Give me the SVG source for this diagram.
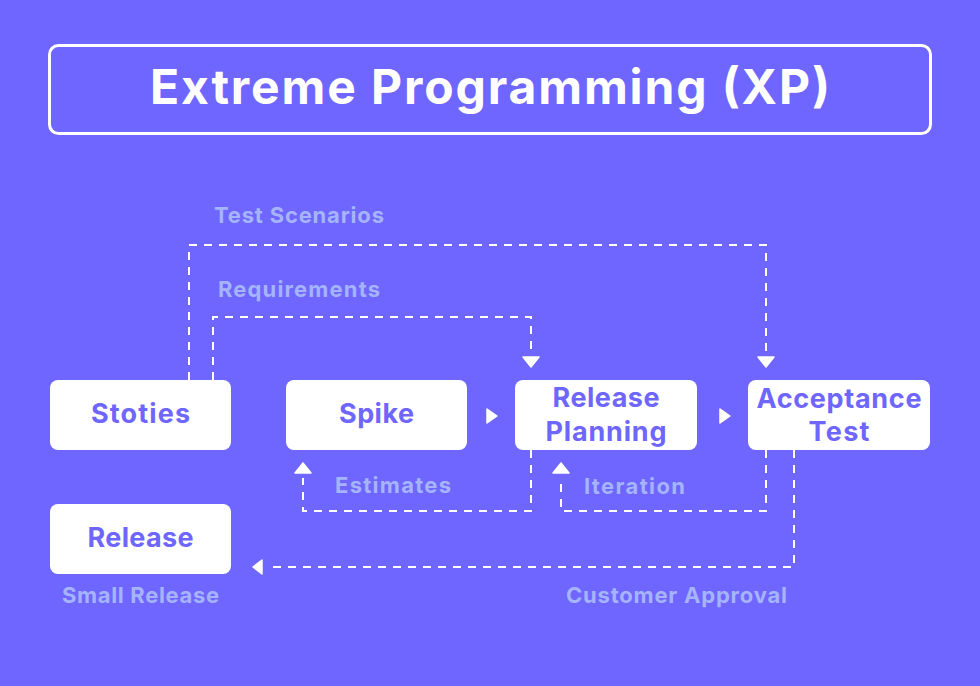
<svg xmlns="http://www.w3.org/2000/svg" width="980" height="686" viewBox="0 0 980 686">
<style>
.node rect{fill:#ffffff;}
.node text{fill:#6f66ff;font-family:Inter,"Noto Sans",sans-serif;font-weight:700;font-size:27px;text-anchor:middle;}
.lbl{fill:#a5b4fc;font-family:Inter,"Noto Sans",sans-serif;font-weight:700;font-size:22px;}
.dash{fill:none;stroke:#ffffff;stroke-width:2;stroke-dasharray:8 7;}
.ah{fill:#ffffff;stroke:#ffffff;stroke-width:1.5;stroke-linejoin:round;}
</style>
<rect width="980" height="686" fill="#6f66ff"/>
<g id="title">
<rect x="49.5" y="45.5" width="881" height="88" rx="9" fill="none" stroke="#ffffff" stroke-width="3"/>
<text x="490" y="104" fill="#ffffff" font-family="Inter,'Noto Sans',sans-serif" font-weight="700" font-size="48" text-anchor="middle" textLength="680" lengthAdjust="spacing">Extreme Programming (XP)</text>
</g>
<g id="connectors">
<path class="dash" d="M189 380 V245 H766 V352"/>
<polygon class="ah" points="758,357 774,357 766,367"/>
<path class="dash" d="M213 380 V317 H531 V352"/>
<polygon class="ah" points="523,357 539,357 531,367"/>
<polygon class="ah" points="487,409 497,416 487,423"/>
<polygon class="ah" points="720,409 730,416 720,423"/>
<path class="dash" d="M531 450 V511 H303 V478"/>
<polygon class="ah" points="295,473 311,473 303,463"/>
<path class="dash" d="M766 450 V511 H561 V478"/>
<polygon class="ah" points="553,473 569,473 561,463"/>
<path class="dash" d="M794 450 V567 H268"/>
<polygon class="ah" points="262,560 262,574 253,567"/>
</g>
<g id="stoties" class="node"><rect x="50" y="380" width="181" height="70" rx="8"/><text x="140.5" y="423" textLength="99" lengthAdjust="spacing">Stoties</text></g>
<g id="spike" class="node"><rect x="286" y="380" width="181" height="70" rx="8"/><text x="376.5" y="423" textLength="75" lengthAdjust="spacing">Spike</text></g>
<g id="release-planning" class="node"><rect x="515" y="380" width="182" height="70" rx="8"/><text x="606" y="407" textLength="107" lengthAdjust="spacing">Release</text><text x="606" y="441" textLength="121" lengthAdjust="spacing">Planning</text></g>
<g id="acceptance-test" class="node"><rect x="748" y="380" width="182" height="70" rx="8"/><text x="839" y="408" textLength="165" lengthAdjust="spacing">Acceptance</text><text x="839" y="441" textLength="61" lengthAdjust="spacing">Test</text></g>
<g id="release" class="node"><rect x="50" y="504" width="181" height="70" rx="8"/><text x="140.5" y="547" textLength="106" lengthAdjust="spacing">Release</text></g>
<g id="labels">
<text class="lbl" x="214" y="223" textLength="170" lengthAdjust="spacing">Test Scenarios</text>
<text class="lbl" x="218" y="297" textLength="162" lengthAdjust="spacing">Requirements</text>
<text class="lbl" x="335" y="493" textLength="116" lengthAdjust="spacing">Estimates</text>
<text class="lbl" x="584" y="494" textLength="101" lengthAdjust="spacing">Iteration</text>
<text class="lbl" x="62" y="603" textLength="157" lengthAdjust="spacing">Small Release</text>
<text class="lbl" x="566" y="603" textLength="221" lengthAdjust="spacing">Customer Approval</text>
</g>
</svg>
